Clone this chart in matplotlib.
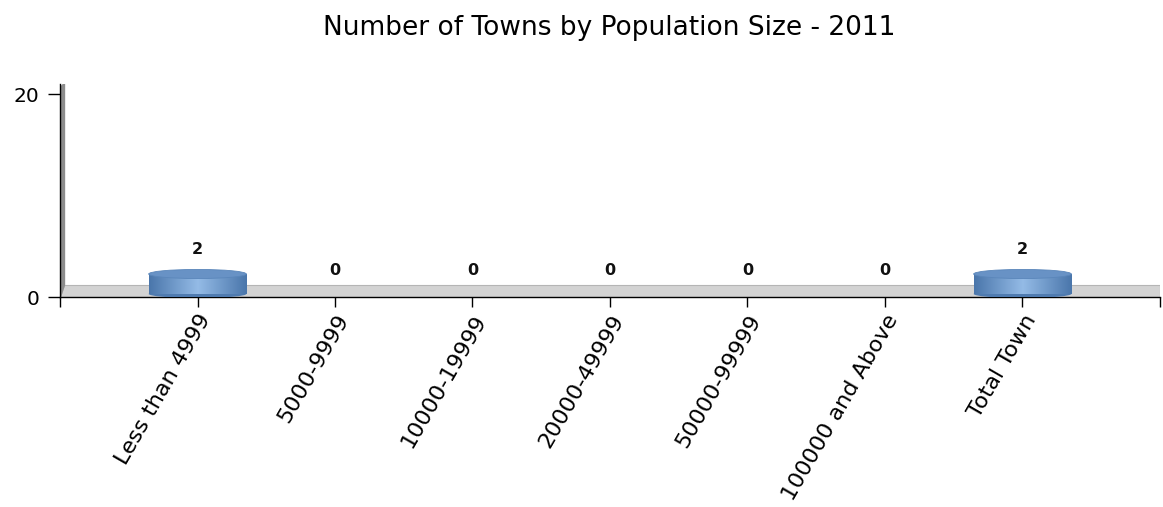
import matplotlib.pyplot as plt
import numpy as np
from matplotlib.colors import LinearSegmentedColormap
from matplotlib.patches import Ellipse, Polygon

categories = ['Less than 4999', '5000-9999', '10000-19999', '20000-49999',
              '50000-99999', '100000 and Above', 'Total Town']
towns = [2, 0, 0, 0, 0, 0, 2]

fig = plt.figure(figsize=(11.63, 5.07), dpi=100)
ax = fig.add_axes([0.0516, 0.4142, 0.9458, 0.42])
x = np.arange(len(categories))
ax.set_xlim(-1, 7)
ax.set_ylim(0, 21)

# floor and back wall of the pseudo 3D plot area
ax.add_patch(Polygon([(-1, 0), (7, 0), (7, 1.2), (-0.97, 1.2)], closed=True,
                     facecolor='#d3d3d3', edgecolor='#b5b5b5', lw=0.8, zorder=1))
ax.add_patch(Polygon([(-1, 0), (-0.97, 1.2), (-0.97, 21), (-1, 20.6)], closed=True,
                     facecolor='#8c8c8c', edgecolor='#8c8c8c', lw=1.5, zorder=1))

# cylinder bars
cyl = LinearSegmentedColormap.from_list('cyl', ['#94bbe6', '#4a76ab'])
w = 0.71
base = 0.3
grad = np.abs(np.linspace(-1, 1, 200))[None, :]
for xi, v in zip(x, towns):
    if v > 0:
        top = base + v * 0.985
        body = ax.bar(xi, top - base, width=w, bottom=base, color='#5f8bc0',
                      edgecolor='none', zorder=3)[0]
        im = ax.imshow(grad, cmap=cyl, aspect='auto', vmin=0, vmax=1,
                       extent=(xi - w / 2, xi + w / 2, base, top), zorder=3)
        im.set_clip_path(body)
        ax.add_patch(Ellipse((xi, base), w, 0.8, facecolor='#4f7bb0',
                             edgecolor='none', zorder=2.9))
        ax.add_patch(Ellipse((xi, top), w, 0.9, facecolor='#6892c5',
                             edgecolor='#5a86ba', lw=0.6, zorder=4))
    ax.text(xi, v + 2.65, str(v), ha='center', va='center', fontsize=11.5,
            fontweight='bold', color='#111111', zorder=5)

ax.set_xticks(x)
ax.set_xticklabels(categories, rotation=60, ha='right', rotation_mode='anchor',
                   fontsize=16)
ax.set_xticks([-1, 7], minor=True)
ax.set_yticks([0, 20])
ax.tick_params(axis='x', which='both', length=7, width=1, labelsize=16, pad=3)
ax.tick_params(axis='y', which='both', length=9, width=1, labelsize=14.5, pad=6)
for s in ['top', 'right']:
    ax.spines[s].set_visible(False)
ax.spines['left'].set_linewidth(1)
ax.spines['bottom'].set_linewidth(1)

fig.suptitle('Number of Towns by Population Size - 2011', x=0.524, y=0.945,
             va='center', fontsize=19)
fig.savefig('out.png', dpi=100)
